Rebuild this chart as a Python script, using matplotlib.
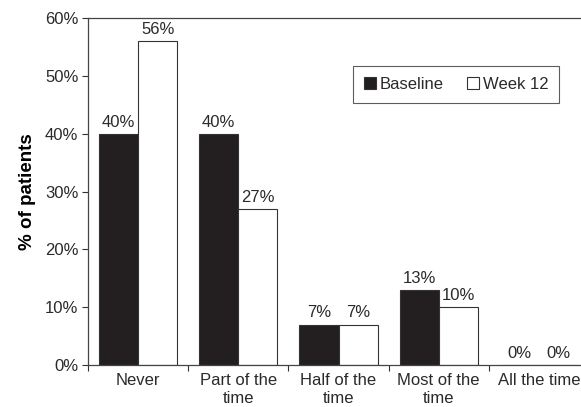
import matplotlib
matplotlib.use("Agg")
import matplotlib.pyplot as plt
import numpy as np

categories = ["Never", "Part of the\ntime", "Half of the\ntime", "Most of the\ntime", "All the time"]
baseline = [40, 40, 7, 13, 0]
week12 = [56, 27, 7, 10, 0]
yticks = [0, 10, 20, 30, 40, 50, 60]

plt.rcParams["font.family"] = ["Liberation Sans", "DejaVu Sans"]
plt.rcParams["font.size"] = 12
txt = "#2a2a2a"
plt.rcParams["text.color"] = txt
plt.rcParams["xtick.labelcolor"] = txt
plt.rcParams["ytick.labelcolor"] = txt

fig = plt.figure(figsize=(5.81, 4.07), dpi=100)
W, H = 581, 407
left, right, top, bottom = 88, 589, 18, 365
ax = fig.add_axes([left / W, 1 - bottom / H, (right - left) / W, (bottom - top) / H])

x = np.arange(len(categories))
bw = 0.39
dark = "#231f20"
edge = "#333333"
b1 = ax.bar(x - bw / 2, baseline, bw, color=dark, edgecolor=edge, linewidth=0.8, label="Baseline")
b2 = ax.bar(x + bw / 2, week12, bw, color="white", edgecolor=edge, linewidth=0.8, label="Week 12")

for rect, v in zip(b1, baseline):
    ax.text(rect.get_x() + rect.get_width() / 2, v + 0.7, f"{v}%", ha="center", va="bottom")
for rect, v in zip(b2, week12):
    ax.text(rect.get_x() + rect.get_width() / 2, v + 0.7, f"{v}%", ha="center", va="bottom")

ax.set_xlim(-0.5, len(categories) - 0.5)
ax.set_ylim(0, 60)
ax.set_yticks(yticks)
ax.set_yticklabels([f"{t}%" for t in yticks])
ax.set_xticks(np.arange(len(categories) + 1) - 0.5)
ax.set_xticklabels([])
ax.set_xticks(x, minor=True)
ax.set_xticklabels(categories, minor=True)
ax.tick_params(axis="x", which="minor", length=0, pad=6)
ax.tick_params(axis="x", which="major", length=4, direction="out", color="#333333")
ax.tick_params(axis="y", length=4, direction="out", color="#333333", pad=3)
for lbl in ax.get_xticklabels(minor=True):
    lbl.set_linespacing(1.2)

ax.spines["right"].set_visible(False)
for s in ["left", "bottom", "top"]:
    ax.spines[s].set_color("#444444")
    ax.spines[s].set_linewidth(0.9)

ax.set_ylabel("% of patients", fontweight="bold", fontsize=13.5, labelpad=6)

leg = ax.legend(ncol=2, loc="upper left", bbox_to_anchor=((353 - left) / (right - left), 1 - (66 - top) / (bottom - top)),
                borderaxespad=0, frameon=True, fancybox=False, edgecolor="#333333", handlelength=0.7, handleheight=0.7,
                handletextpad=0.25, columnspacing=1.4, borderpad=0.65, fontsize=12)
leg.get_frame().set_linewidth(0.8)

fig.savefig("out.png", dpi=100)
